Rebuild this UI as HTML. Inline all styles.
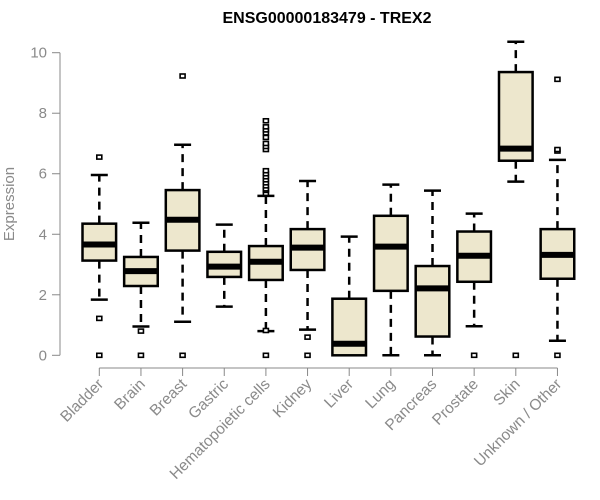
<!DOCTYPE html>
<html><head><meta charset="utf-8"><style>
body{margin:0;background:#fff}
svg{display:block;font-family:"Liberation Sans",Arial,sans-serif}
</style></head><body>
<svg id="chart" width="600" height="500">
<text x="327" y="23" text-anchor="middle" font-size="16" font-weight="bold">ENSG00000183479 - TREX2</text>
<text transform="translate(14,204) rotate(-90)" text-anchor="middle" font-size="15" fill="#8a8a8a">Expression</text>
<g id="yaxis"></g>
<g id="xaxis"></g>
<g id="boxes"></g>
</svg>
<script>
const categories=["Bladder","Brain","Breast","Gastric","Hematopoietic cells","Kidney","Liver","Lung","Pancreas","Prostate","Skin","Unknown / Other"];
const lowWhisker=[1.84,0.95,1.11,1.61,0.80,0.85,0,0,0,0.96,5.74,0.48];
const q1=[3.13,2.29,3.46,2.59,2.49,2.82,0,2.13,0.62,2.43,6.43,2.53];
const median=[3.66,2.78,4.48,2.93,3.09,3.56,0.38,3.59,2.21,3.29,6.83,3.32];
const q3=[4.35,3.25,5.46,3.42,3.61,4.17,1.87,4.61,2.95,4.09,9.36,4.17];
const highWhisker=[5.96,4.38,6.96,4.32,5.27,5.76,3.92,5.64,5.44,4.68,10.36,6.46];
const outliers=[[6.55,1.22,0],[0.80,0],[9.23,0],[],[5.35,5.45,5.5,5.6,5.7,5.8,5.9,6.0,6.1,6.8,6.9,7.0,7.2,7.35,7.45,7.55,7.75,0.82,0],[0.60,0],[],[],[],[0],[0],[9.12,6.75,6.8,0]];
const yTicks=[0,2,4,6,8,10];

const NS="http://www.w3.org/2000/svg";
const y=v=>355.3-v*30.26;
const x=i=>99.3+i*41.65;
const hw=16.8;
function mk(tag,attrs,parent){const e=document.createElementNS(NS,tag);for(const k in attrs)e.setAttribute(k,attrs[k]);parent.appendChild(e);return e;}
const ya=document.getElementById('yaxis'),xa=document.getElementById('xaxis'),bx=document.getElementById('boxes');
let l=mk('line',{x1:60,x2:60,y1:y(10),y2:y(0),stroke:'#888'},ya);


yTicks.forEach(t=>{
 const tk=mk('line',{x1:52,x2:60,y1:y(t),y2:y(t),stroke:'#888'},ya);
 
 
 const tx=mk('text',{x:47,y:y(t)+5,'text-anchor':'end','font-size':15,fill:'#8a8a8a'},ya);
 tx.textContent=t;
 
 
});
l=mk('line',{x1:x(0),x2:x(categories.length-1),y1:368,y2:368,stroke:'#888'},xa);


categories.forEach((c,i)=>{
 const cx=x(i);
 const tk=mk('line',{x1:cx,x2:cx,y1:368,y2:376,stroke:'#888'},xa);
 
 
 const tx=mk('text',{transform:`translate(${cx+5},${385}) rotate(-45)`,'text-anchor':'end','font-size':15.5,fill:'#8a8a8a'},xa);
 tx.textContent=c;
 
 
 const g=mk('g',{},bx);
 
 
 mk('line',{x1:cx,x2:cx,y1:y(q3[i]),y2:y(highWhisker[i]),stroke:'#000','stroke-width':2.5,'stroke-dasharray':'8,6'},g);
 mk('line',{x1:cx,x2:cx,y1:y(q1[i]),y2:y(lowWhisker[i]),stroke:'#000','stroke-width':2.5,'stroke-dasharray':'8,6'},g);
 mk('line',{x1:cx-8.5,x2:cx+8.5,y1:y(highWhisker[i]),y2:y(highWhisker[i]),stroke:'#000','stroke-width':2.5},g);
 mk('line',{x1:cx-8.5,x2:cx+8.5,y1:y(lowWhisker[i]),y2:y(lowWhisker[i]),stroke:'#000','stroke-width':2.5},g);
 mk('rect',{x:cx-hw,y:y(q3[i]),width:2*hw,height:Math.max(0,y(q1[i])-y(q3[i])),fill:'#ede7cd',stroke:'#000','stroke-width':2.5},g);
 mk('line',{x1:cx-hw,x2:cx+hw,y1:y(median[i]),y2:y(median[i]),stroke:'#000','stroke-width':6},g);
 outliers[i].forEach(o=>{
  const p=mk('rect',{x:cx-2.5,y:y(o)-2,width:5,height:4,fill:'#fff',stroke:'#000','stroke-width':1.6},g);
  
  
 });
});
</script>
</body></html>
